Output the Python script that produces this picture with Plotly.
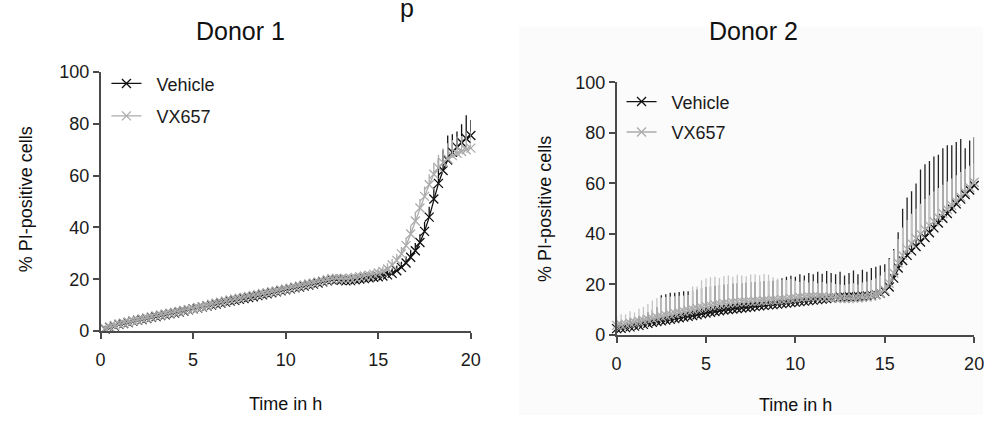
import plotly.graph_objects as go

# ---------------- data ----------------
TIME_D1 = [0.25, 0.5, 0.75, 1.0, 1.25, 1.5, 1.75, 2.0, 2.25, 2.5, 2.75, 3.0, 3.25, 3.5, 3.75, 4.0,
           4.25, 4.5, 4.75, 5.0, 5.25, 5.5, 5.75, 6.0, 6.25, 6.5, 6.75, 7.0, 7.25, 7.5, 7.75, 8.0,
           8.25, 8.5, 8.75, 9.0, 9.25, 9.5, 9.75, 10.0, 10.25, 10.5, 10.75, 11.0, 11.25, 11.5, 11.75, 12.0,
           12.25, 12.5, 12.75, 13.0, 13.25, 13.5, 13.75, 14.0, 14.25, 14.5, 14.75, 15.0, 15.25, 15.5, 15.75, 16.0,
           16.25, 16.5, 16.75, 17.0, 17.25, 17.5, 17.75, 18.0, 18.25, 18.5, 18.75, 19.0, 19.25, 19.5, 19.75, 20.0]

TIME_D2 = [0.0] + TIME_D1

# Donor 1 means
D1_VEHICLE = [0.8, 1.4, 2.0, 2.6, 2.9, 3.3, 3.8, 4.2, 4.5, 4.9, 5.3, 5.6, 6.0, 6.3, 6.7, 7.0,
              7.4, 7.8, 8.2, 8.6, 8.9, 9.3, 9.7, 10.1, 10.5, 10.8, 11.2, 11.6, 11.9, 12.3, 12.6, 13.0,
              13.3, 13.7, 14.0, 14.4, 14.8, 15.2, 15.6, 16.0, 16.3, 16.7, 17.0, 17.4, 17.8, 18.2, 18.6, 19.0,
              19.4, 19.8, 19.9, 19.6, 19.4, 19.5, 19.8, 20.1, 20.3, 20.6, 20.8, 21.0, 21.3, 21.7, 22.3, 23.3,
              24.6, 26.3, 28.5, 31.0, 34.2, 38.5, 44.0, 51.0, 57.0, 62.0, 66.0, 69.0, 71.0, 72.8, 74.3, 75.5]
D1_VX657 = [1.0, 1.6, 2.2, 2.7, 3.1, 3.5, 3.9, 4.3, 4.7, 5.1, 5.5, 5.9, 6.2, 6.6, 6.9, 7.3,
            7.6, 8.0, 8.3, 8.6, 9.0, 9.4, 9.9, 10.4, 10.8, 11.2, 11.6, 12.0, 12.4, 12.7, 13.1, 13.4,
            13.8, 14.1, 14.5, 14.8, 15.2, 15.5, 15.9, 16.2, 16.6, 17.0, 17.4, 17.8, 18.2, 18.6, 19.0, 19.4,
            19.8, 20.2, 20.4, 20.3, 20.2, 20.4, 20.7, 21.0, 21.3, 21.6, 22.0, 22.4, 23.0, 24.0, 25.5, 27.3,
            29.8, 33.0, 37.5, 42.5, 47.5, 52.0, 56.5, 60.5, 63.0, 65.0, 66.5, 67.7, 68.6, 69.3, 70.0, 70.6]
# Donor 1 upper error (SEM)
D1_VEHICLE_ERR = [1.2, 1.5, 1.0, 1.8, 1.3, 1.6, 1.1, 1.7, 1.4, 1.2, 1.8, 1.5, 1.3, 1.6, 1.2, 1.7,
                  1.4, 1.5, 1.1, 1.8, 1.3, 1.6, 1.2, 1.5, 1.7, 1.3, 1.4, 1.8, 1.2, 1.6, 1.5, 1.3,
                  1.7, 1.4, 1.2, 1.6, 1.5, 1.8, 1.3, 1.4, 1.6, 1.2, 1.7, 1.5, 1.3, 1.8, 1.4, 1.6,
                  1.5, 1.9, 1.4, 1.6, 1.2, 1.5, 1.7, 1.3, 1.6, 1.4, 1.8, 1.5, 1.7, 1.6, 1.9, 2.0,
                  2.2, 2.5, 2.8, 3.0, 3.2, 3.6, 4.0, 4.5, 9.5, 8.0, 9.5, 7.0, 6.0, 7.0, 9.0, 6.0]
D1_VX657_ERR = [1.3, 1.1, 1.6, 1.4, 1.2, 1.7, 1.5, 1.3, 1.6, 1.2, 1.4, 1.7, 1.5, 1.3, 1.6, 1.2,
                1.5, 1.4, 1.7, 1.3, 1.6, 1.5, 1.2, 1.8, 1.4, 1.6, 1.3, 1.5, 1.7, 1.2, 1.6, 1.4,
                1.5, 1.3, 1.7, 1.4, 1.6, 1.2, 1.5, 1.8, 1.3, 1.6, 1.4, 1.5, 1.7, 1.3, 1.6, 1.4,
                1.8, 1.5, 1.6, 1.3, 1.7, 1.5, 1.4, 1.6, 1.8, 1.5, 1.7, 1.9, 2.0, 2.2, 2.4, 2.5,
                2.8, 3.0, 3.2, 3.5, 3.5, 3.8, 4.0, 4.5, 5.0, 5.5, 6.0, 6.0, 6.5, 6.0, 7.0, 6.5]

# Donor 2 means
D2_VEHICLE = [2.5, 2.6, 2.9, 3.2, 3.5, 3.8, 4.2, 4.6, 5.0, 5.3, 5.6, 5.9, 6.2, 6.5, 6.8, 7.1, 7.4,
              7.7, 8.0, 8.4, 8.7, 9.0, 9.3, 9.6, 9.9, 10.1, 10.3, 10.5, 10.7, 10.9, 11.1, 11.3, 11.5,
              11.7, 11.9, 12.0, 12.2, 12.4, 12.6, 12.8, 13.0, 13.2, 13.4, 13.6, 13.8, 14.0, 14.2, 14.4, 14.6,
              14.8, 15.0, 15.1, 15.2, 15.2, 15.3, 15.4, 15.5, 15.7, 16.0, 16.5, 17.3, 19.0, 22.5, 26.5, 29.5,
              31.5, 33.3, 35.0, 36.8, 38.6, 40.5, 42.4, 44.3, 46.2, 48.1, 50.0, 51.9, 53.8, 55.6, 57.4, 59.2]
D2_VX657 = [3.8, 4.0, 4.3, 4.6, 5.0, 5.3, 5.7, 6.1, 6.5, 6.9, 7.3, 7.7, 8.1, 8.5, 8.9, 9.3, 9.7,
            10.1, 10.5, 10.9, 11.3, 11.6, 11.9, 12.2, 12.4, 12.6, 12.8, 13.0, 13.1, 13.2, 13.3, 13.4, 13.5,
            13.6, 13.7, 13.8, 13.9, 14.0, 14.2, 14.4, 14.6, 14.8, 15.0, 15.1, 15.2, 15.2, 15.1, 15.0, 14.9,
            14.7, 14.5, 14.4, 14.4, 14.5, 14.6, 14.8, 15.0, 15.4, 15.9, 16.6, 17.8, 20.5, 24.5, 28.5, 31.5,
            34.0, 36.2, 38.2, 40.0, 41.7, 43.3, 44.9, 46.5, 48.1, 49.7, 51.3, 52.9, 54.6, 56.4, 58.4, 60.5]
# Donor 2 upper end of the error bars
D2_VEHICLE_TOP = [5.0, 5.5, 6.0, 6.5, 7.0, 7.5, 8.0, 9.0, 10.0, 11.0, 15.7, 16.1, 16.7, 16.7, 17.0, 17.3, 17.3,
                  17.5, 18.0, 18.5, 19.0, 19.2, 19.5, 19.8, 20.0, 20.2, 20.4, 20.5, 20.6, 20.8, 21.0, 21.0, 21.2,
                  21.4, 21.5, 21.5, 21.8, 22.5, 23.0, 23.4, 23.0, 24.0, 23.5, 24.5, 24.0, 25.0, 24.2, 25.3, 24.5,
                  24.0, 25.0, 23.5, 24.5, 25.5, 24.0, 25.8, 25.0, 26.5, 27.0, 27.5, 28.0, 30.5, 34.0, 40.7, 50.0,
                  54.4, 56.9, 60.0, 65.5, 67.6, 68.9, 70.7, 71.4, 73.9, 75.1, 75.1, 76.4, 77.6, 73.9, 77.0, 78.3]
D2_VX657_TOP = [7.3, 8.2, 8.2, 9.4, 8.9, 10.4, 11.2, 12.3, 13.6, 14.5, 14.8, 15.0, 15.2, 15.3, 15.5, 15.6, 15.8,
                19.2, 19.2, 21.7, 22.4, 22.8, 23.0, 22.6, 23.3, 23.5, 23.0, 23.8, 23.5, 23.2, 23.9, 24.0, 23.6,
                24.1, 23.8, 22.8, 22.4, 22.0, 21.8, 22.2, 21.5, 21.0, 21.6, 20.8, 21.3, 20.5, 21.0, 20.4, 20.8,
                20.2, 20.0, 19.8, 20.2, 20.5, 20.0, 20.8, 21.2, 21.8, 22.5, 23.5, 25.0, 30.0, 33.5, 38.0, 42.5,
                45.5, 48.0, 50.0, 52.0, 53.8, 55.3, 56.8, 58.2, 59.5, 60.8, 62.0, 63.2, 64.5, 65.8, 67.0, 68.0]

SERIES_NAMES = ["Vehicle", "VX657"]
PANEL_TITLES = ["Donor 1", "Donor 2"]
X_TICKS = [0, 5, 10, 15, 20]
Y_TICKS = [0, 20, 40, 60, 80, 100]
X_TITLE = "Time in h"
Y_TITLE = "% PI-positive cells"

# ---------------- style ----------------
W, H = 993, 425
FONT = "Liberation Sans, Arial, Helvetica, sans-serif"
BLACK = "#111111"
GREY = "#ababab"
GREY_ERR = "#c4c4c4"
AXIS = "#4a4a4a"


def px_x(p):
    return p / W


def px_y(p):
    return 1 - p / H


fig = go.Figure()


def add_series(x, y, err, color, errcolor, name, xa, ya, legend, showlegend):
    fig.add_trace(go.Scatter(
        x=x, y=y, name=name, mode="lines+markers",
        xaxis=xa, yaxis=ya, legend=legend, showlegend=showlegend, legendgroup=legend + name,
        line=dict(color=color, width=1.3),
        marker=dict(symbol="x-thin", size=9, color=color, line=dict(color=color, width=1.3)),
        error_y=dict(type="data", array=err, arrayminus=[0] * len(err), symmetric=False,
                     color=errcolor, thickness=1.3, width=0),
        cliponaxis=False,
    ))


# Donor 1
add_series(TIME_D1, D1_VEHICLE, D1_VEHICLE_ERR, BLACK, BLACK, "  " + SERIES_NAMES[0], "x", "y", "legend", True)
add_series(TIME_D1, D1_VX657, D1_VX657_ERR, GREY, GREY, "  " + SERIES_NAMES[1], "x", "y", "legend", True)
# Donor 2
d2_veh_err = [max(t - m, 0) for t, m in zip(D2_VEHICLE_TOP, D2_VEHICLE)]
d2_vx_err = [max(t - m, 0) for t, m in zip(D2_VX657_TOP, D2_VX657)]
add_series(TIME_D2, D2_VEHICLE, d2_veh_err, BLACK, "#222222", "  " + SERIES_NAMES[0], "x2", "y2", "legend2", True)
add_series(TIME_D2, D2_VX657, d2_vx_err, GREY, GREY_ERR, "  " + SERIES_NAMES[1], "x2", "y2", "legend2", True)

axis_common = dict(
    showline=True, linecolor=AXIS, linewidth=1.5, showgrid=False, zeroline=False,
    ticks="outside", ticklen=6, tickwidth=1.5, tickcolor=AXIS,
    tickfont=dict(family=FONT, size=18, color="#1a1a1a"),
    fixedrange=True,
)

fig.update_layout(
    width=W, height=H, autosize=False,
    margin=dict(l=0, r=0, t=0, b=0),
    paper_bgcolor="white", plot_bgcolor="rgba(0,0,0,0)",
    font=dict(family=FONT, size=18, color="#1a1a1a"),
    xaxis=dict(domain=[px_x(97), px_x(473)], range=[0, 20], tickvals=X_TICKS, anchor="y",
               ticklabelstandoff=6, **axis_common),
    yaxis=dict(domain=[px_y(337), px_y(65)], range=[0, 100], tickvals=Y_TICKS, anchor="x", **axis_common),
    xaxis2=dict(domain=[px_x(621), px_x(984)], range=[0, 20], tickvals=X_TICKS, anchor="y2",
                ticklabelstandoff=6, **axis_common),
    yaxis2=dict(domain=[px_y(341), px_y(76)], range=[0, 100], tickvals=Y_TICKS, anchor="x2", **axis_common),
    legend=dict(x=px_x(103), y=px_y(58), xanchor="left", yanchor="top", bgcolor="rgba(0,0,0,0)",
                font=dict(family=FONT, size=18, color="#1a1a1a"), tracegroupgap=6, traceorder="grouped"),
    legend2=dict(x=px_x(626), y=px_y(77), xanchor="left", yanchor="top", bgcolor="rgba(0,0,0,0)",
                 font=dict(family=FONT, size=18, color="#1a1a1a"), tracegroupgap=4, traceorder="grouped"),
    showlegend=True,
)

# faint background panel behind Donor 2
fig.add_shape(type="rect", xref="paper", yref="paper", x0=px_x(522), x1=1.0, y0=0, y1=px_y(18),
              fillcolor="#fbfbfb", line=dict(width=0), layer="below")

annotations = [
    dict(text=PANEL_TITLES[0], x=px_x(239), y=px_y(22), font=dict(size=25)),
    dict(text=PANEL_TITLES[1], x=px_x(760), y=px_y(22), font=dict(size=25)),
    dict(text=X_TITLE, x=px_x(285), y=px_y(413), font=dict(size=18)),
    dict(text=X_TITLE, x=px_x(803), y=px_y(414), font=dict(size=18)),
    dict(text=Y_TITLE, x=px_x(21), y=px_y(199), font=dict(size=18), textangle=-90),
    dict(text=Y_TITLE, x=px_x(548), y=px_y(209), font=dict(size=18), textangle=-90),
    dict(text="p", x=px_x(408), y=px_y(-2), font=dict(size=25)),
]
for a in annotations:
    a.update(xref="paper", yref="paper", showarrow=False, xanchor="center", yanchor="middle")
    a["font"] = dict(family=FONT, color="#111111", **a["font"])
    fig.add_annotation(**a)

fig.write_html(
    "out.html",
    config={"displayModeBar": False, "responsive": False},
    post_script="document.body.style.margin='0';document.body.style.overflow='hidden';",
)
